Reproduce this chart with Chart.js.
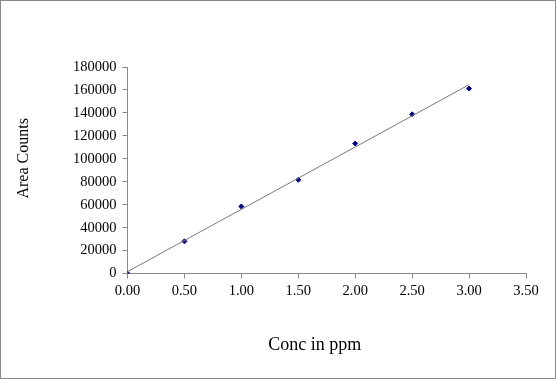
<!DOCTYPE html>
<html>
<head>
<meta charset="utf-8">
<script src="https://cdn.jsdelivr.net/npm/chart.js@4"></script>
<style>
  body { margin: 0; background: #fff; }
  #wrap { width: 554px; height: 377px; border: 1px solid #8a8a8a; }
</style>
</head>
<body>
<div id="wrap"><canvas id="myChart" width="554" height="377"></canvas></div>
<script>
// concentration (ppm) and measured area counts
const conc = [0, 0.5, 1.0, 1.5, 2.0, 2.5, 3.0];
const areaCounts = [0, 28100, 58500, 81700, 113300, 138800, 161200];

// linear trendline end points
const trendConc = [0, 3.0];
const trendArea = [1700, 164600];

const xTitle = 'Conc in ppm';
const yTitle = 'Area Counts';

const ctx = document.getElementById('myChart').getContext('2d');
const serif = "'Liberation Serif', 'Times New Roman', serif";

// axis titles sit a little off-centre in the original, so draw them by hand
const axisTitles = {
    id: 'axisTitles',
    afterDraw(chart) {
        const a = chart.chartArea;
        const c = chart.ctx;
        c.save();
        c.fillStyle = '#000';
        c.textAlign = 'center';
        c.textBaseline = 'middle';
        c.font = '18px ' + serif;
        c.fillText(xTitle, (a.left + a.right) / 2 - 12, a.bottom + 72);
        c.translate(a.left - 104, (a.top + a.bottom) / 2 - 12);
        c.rotate(-Math.PI / 2);
        c.font = '16px ' + serif;
        c.fillText(yTitle, 0, 0);
        c.restore();
    }
};

new Chart(ctx, {
    type: 'scatter',
    data: {
        datasets: [{
            label: 'Trend',
            data: trendConc.map((x, i) => ({ x: x, y: trendArea[i] })),
            showLine: true,
            borderColor: '#7a7a7a',
            borderWidth: 1,
            pointRadius: 0,
            fill: false
        }, {
            label: 'Area Counts',
            data: conc.map((x, i) => ({ x: x, y: areaCounts[i] })),
            pointStyle: 'rectRot',
            pointRadius: 2.5,
            backgroundColor: '#000080',
            borderColor: '#000080',
            borderWidth: 1
        }]
    },
    plugins: [axisTitles],
    options: {
        responsive: false,
        animation: false,
        layout: { padding: { top: 66, right: 29, bottom: 74, left: 66 } },
        plugins: {
            legend: { display: false },
            tooltip: { enabled: false }
        },
        scales: {
            x: {
                type: 'linear',
                min: 0,
                max: 3.5,
                ticks: {
                    stepSize: 0.5,
                    color: '#000',
                    font: { family: serif, size: 14.5 },
                    padding: 4,
                    callback: v => v.toFixed(2)
                },
                grid: { drawOnChartArea: false, color: '#8a8a8a', tickLength: 5 },
                border: { color: '#8a8a8a' }
            },
            y: {
                min: 0,
                max: 180000,
                ticks: {
                    stepSize: 20000,
                    color: '#000',
                    font: { family: serif, size: 14.5 },
                    padding: 6,
                    callback: v => String(v)
                },
                grid: { drawOnChartArea: false, color: '#8a8a8a', tickLength: 5 },
                border: { color: '#8a8a8a' }
            }
        }
    }
});
</script>
</body>
</html>
